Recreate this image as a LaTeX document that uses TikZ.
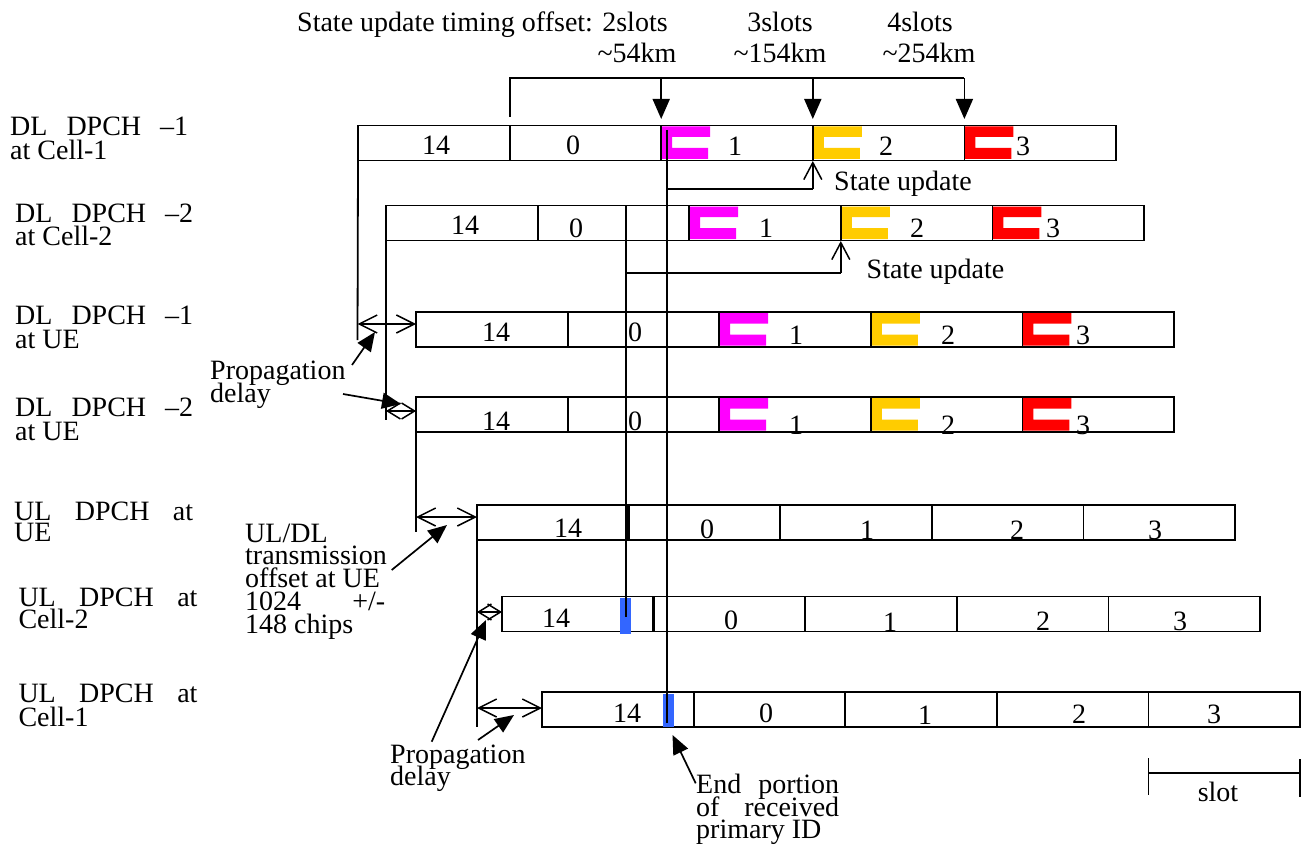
\documentclass[tikz,border=0pt]{standalone}
\usepackage{fontspec}
\setmainfont{Liberation Serif}
\usetikzlibrary{arrows.meta}
\definecolor{mag}{RGB}{255,0,255}
\definecolor{yel}{RGB}{255,204,0}
\definecolor{rd}{RGB}{255,0,0}
\definecolor{blu}{RGB}{51,102,255}
\newcommand{\dfont}{\fontsize{28}{23}\selectfont}
\newcommand{\slotrow}[3]{%
  \node[rowbox] (#1) at (#2,#3) {};
  \foreach \k in {1,2,3,4} {\draw[ln] (#2+\k*151.6,#3) -- (#2+\k*151.6,#3+35);}
}
\newcommand{\brk}[3]{\fill[#3] (#1,#2+1) -- ++(49,0) -- ++(0,10.5) -- ++(-38,0) -- ++(0,11) -- ++(36,0) -- ++(0,11) -- ++(-47,0) -- cycle;}
\begin{document}
\begin{tikzpicture}[x=1pt,y=-1pt,
  ln/.style={line width=1.8pt},
  rowbox/.style={draw, line width=1.8pt, minimum width=758pt, minimum height=35pt, anchor=north west, inner sep=0pt, outer sep=0pt},
  txt/.style={font=\dfont, inner sep=0pt, anchor=base west},
  num/.style={font=\dfont, inner sep=0pt, anchor=base},
  farrow/.style={line width=1.7pt, -{Triangle[length=19pt,width=16pt]}},
  topar/.style={line width=1.8pt, -{Triangle[length=20pt,width=17pt]}},
  dbl/.style={line width=1.5pt, {Straight Barb[length=18pt,width=18pt]}-{Straight Barb[length=18pt,width=18pt]}},
  sdbl/.style={line width=1.5pt, {Straight Barb[length=13pt,width=16pt]}-{Straight Barb[length=13pt,width=16pt]}},
  upar/.style={line width=1.5pt, -{Straight Barb[length=17pt,width=18pt]}}]
\fill[white] (0,0) rectangle (1308,845);
\useasboundingbox (0,0) rectangle (1308,845);

% coloured marks
\brk{661.2}{125.5}{mag} \brk{812.8}{125.5}{yel} \brk{964.4}{125.5}{rd}
\brk{689.2}{205.5}{mag} \brk{840.8}{205.5}{yel} \brk{992.4}{205.5}{rd}
\brk{719.2}{312}{mag} \brk{870.8}{312}{yel} \brk{1022.4}{312}{rd}
\brk{719.2}{397}{mag} \brk{870.8}{397}{yel} \brk{1022.4}{397}{rd}

% slot rows
\slotrow{r1}{358}{125.5}
\slotrow{r2}{386}{205.5}
\slotrow{r3}{416}{312}
\slotrow{r4}{416}{397}
\slotrow{r5}{477}{505}
\slotrow{r6}{502}{596.5}
\slotrow{r7}{542}{692}
\draw[line width=3pt] (628.6,505) -- (628.6,540);
\draw[line width=2.4pt] (653.6,596.5) -- (653.6,631.5);

% blue marks
\fill[blu] (620,597.7) rectangle (631,634);
\fill[blu] (663,694) rectangle (673.6,727);

% slot numbers
\node[num] (n1a) at (436,155) {14}; \node[num] (n1b) at (573,155) {0}; \node[num] (n1c) at (735,156) {1}; \node[num] (n1d) at (886,156) {2}; \node[num] (n1e) at (1023,156) {3};
\node[num] (n2a) at (465,234) {14}; \node[num] (n2b) at (576,237) {0}; \node[num] (n2c) at (766,237) {1}; \node[num] (n2d) at (917,237) {2}; \node[num] (n2e) at (1053,237) {3};
\node[num] (n3a) at (496,341) {14}; \node[num] (n3b) at (635,341) {0}; \node[num] (n3c) at (796,344) {1}; \node[num] (n3d) at (948,344) {2}; \node[num] (n3e) at (1083,344) {3};
\node[num] (n4a) at (496,430) {14}; \node[num] (n4b) at (635,430) {0}; \node[num] (n4c) at (796,434) {1}; \node[num] (n4d) at (948,434) {2}; \node[num] (n4e) at (1083,434) {3};
\node[num] (n5a) at (568,537) {14}; \node[num] (n5b) at (707,538) {0}; \node[num] (n5c) at (867,539) {1}; \node[num] (n5d) at (1017,539) {2}; \node[num] (n5e) at (1155,539) {3};
\node[num] (n6a) at (556,627) {14}; \node[num] (n6b) at (731,629) {0}; \node[num] (n6c) at (890,631) {1}; \node[num] (n6d) at (1043,630) {2}; \node[num] (n6e) at (1180,630) {3};
\node[num] (n7a) at (627,722) {14}; \node[num] (n7b) at (766,722) {0}; \node[num] (n7c) at (925,724) {1}; \node[num] (n7d) at (1079,723) {2}; \node[num] (n7e) at (1214,723) {3};

% long vertical lines
\draw[ln] (626,206) -- (626,617);
\draw[line width=1.5pt] (667,130) -- (667,723);

% left extension lines
\draw[ln] (r1.south west) -- (357.5,340);
\draw[ln] (r2.south west) -- (386,420);
\draw[ln] (r4.south west) -- (416,532);
\draw[ln] (r5.south west) -- (477,727);

% propagation / offset double arrows
\coordinate (d3l) at (357.5,324); \draw[dbl] (d3l) -- (r3.west |- d3l);
\coordinate (d4l) at (386,411); \draw[sdbl] (d4l) -- (r4.west |- d4l);
\coordinate (d5l) at (416,517); \draw[dbl] (d5l) -- (r5.west |- d5l);
\coordinate (d6l) at (477,612); \draw[sdbl] (d6l) -- (r6.west |- d6l);
\coordinate (d7l) at (477,708); \draw[dbl] (d7l) -- (r7.west |- d7l);

% top bracket
\coordinate (bl) at (510,117);
\coordinate (bt) at (510,78.3);
\coordinate (br) at (964.4,78.3);
\draw[ln] (bl) -- (bt) -- (br);
\draw[topar] (661.2,78.3) -- (661.2,119);
\draw[topar] (812.8,78.3) -- (812.8,119);
\draw[topar] (964.4,78.3) -- (964.4,119);

% top texts
\node[txt] (t1) at (297,31.7) {State update timing offset: 2slots};
\node[num] (t2) at (780,31.7) {3slots};
\node[num] (t3) at (920,31.7) {4slots};
\node[num] (t4) at (637,63) {\textasciitilde 54km};
\node[num] (t5) at (780,63) {\textasciitilde 154km};
\node[num] (t6) at (929,63) {\textasciitilde 254km};

% state updates
\coordinate (su1) at (667,189);
\draw[ln] (su1) -- (812.8,189);
\draw[upar] (812.8,189) -- (812.8,161);
\node[txt] (su1t) at (834,190) {State update};
\coordinate (su2) at (626,272.7);
\draw[ln] (su2) -- (840.8,272.7);
\draw[upar] (840.8,272.7) -- (840.8,241);
\node[txt] (su2t) at (866.5,278) {State update};

% row labels
\node[txt] (l1a) at (10,136) {\makebox[178pt][s]{DL DPCH –1}};
\node[txt] (l1b) at (10,160) {at Cell-1};
\node[txt] (l2a) at (15,222.7) {\makebox[178pt][s]{DL DPCH –2}};
\node[txt] (l2b) at (15,245.7) {at Cell-2};
\node[txt] (l3a) at (15,324) {\makebox[178pt][s]{DL DPCH –1}};
\node[txt] (l3b) at (15,348) {at UE};
\node[txt] (l4a) at (15,416) {\makebox[178pt][s]{DL DPCH –2}};
\node[txt] (l4b) at (15,440.7) {at UE};
\node[txt] (l5a) at (14,520) {\makebox[179pt][s]{UL DPCH at}};
\node[txt] (l5b) at (14,541.7) {UE};
\node[txt] (l6a) at (18.3,606.7) {\makebox[179pt][s]{UL DPCH at}};
\node[txt] (l6b) at (18.3,628.3) {Cell-2};
\node[txt] (l7a) at (18.3,702.7) {\makebox[179pt][s]{UL DPCH at}};
\node[txt] (l7b) at (18.3,726) {Cell-1};

% upper propagation delay
\node[txt] (p1a) at (210,379) {Propagation};
\node[txt] (p1b) at (210,402) {delay};
\draw[farrow] (352,365) -- (375,332);
\draw[farrow] (343,394) -- (401,404);

% UL/DL offset
\node[txt] (o1) at (245,542) {UL/DL};
\node[txt] (o2) at (245,564.75) {transmission};
\node[txt] (o3) at (245,587.5) {offset at UE};
\node[txt] (o4) at (245,610.25) {\makebox[140pt][s]{1024 +/-}};
\node[txt] (o5) at (245,633) {148 chips};
\draw[farrow] (391.7,570) -- (447,525);

% lower propagation delay
\node[txt] (p2a) at (390,763) {Propagation};
\node[txt] (p2b) at (390,785) {delay};
\draw[farrow] (431.7,741.7) -- (486,620);
\draw[farrow] (478,740) -- (514,715);

% end portion
\node[txt] (e1) at (696,793) {\makebox[143pt][s]{End portion}};
\node[txt] (e2) at (696,816) {\makebox[143pt][s]{of received}};
\node[txt] (e3) at (696,838) {primary ID};
\draw[farrow] (695.7,783.3) -- (672.5,735);

% slot scale
\coordinate (sl) at (1148.4,773);
\coordinate (sr) at (1300,773);
\draw[ln] (sl) -- (sr);
\draw[ln] (1148.4,758) -- (1148.4,795);
\draw[ln] (1300,759) -- (1300,797);
\node[num] (slt) at (1218,801) {slot};
\end{tikzpicture}
\end{document}
